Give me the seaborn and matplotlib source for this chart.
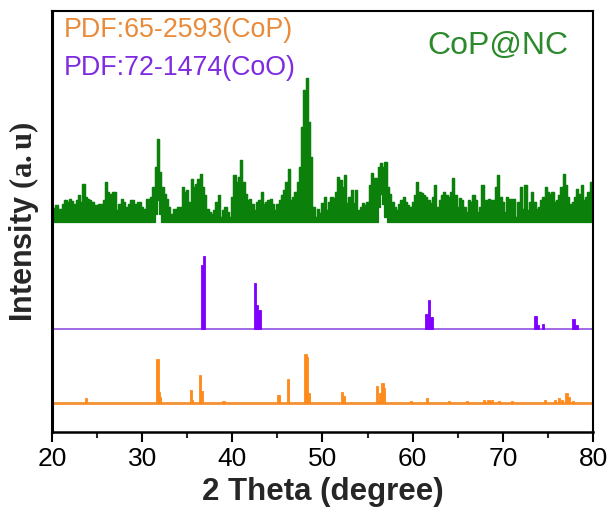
import numpy as np
import matplotlib
matplotlib.use("Agg")
import matplotlib.pyplot as plt
import seaborn as sns

# ---------------- data ----------------
# CoP@NC measured pattern: upper envelope heights (a.u.) on a 0.25 deg grid, 20..80
green_top = [
    12, 14, 17, 13, 13, 18, 22, 20, 23, 21, 18, 22, 27, 20, 38, 25,
    23, 22, 20, 17, 17, 18, 18, 22, 40, 30, 28, 30, 30, 12, 18, 23,
    20, 15, 18, 22, 22, 18, 20, 20, 15, 13, 23, 23, 25, 35, 55, 83,
    50, 35, 28, 23, 15, 8, 13, 13, 15, 15, 35, 30, 32, 20, 43, 35,
    38, 43, 48, 35, 27, 13, 10, 8, 12, 20, 27, 5, 12, 15, 10, 5,
    25, 47, 40, 45, 62, 40, 28, 22, 23, 18, 12, 20, 22, 30, 18, 20,
    22, 23, 18, 12, 18, 22, 27, 32, 40, 53, 22, 25, 30, 40, 55, 95,
    132, 144, 100, 65, 15, 5, 13, 9, 19, 25, 12, 20, 25, 24, 30, 45,
    42, 35, 47, 19, 25, 32, 19, 32, 12, 15, 19, 17, 20, 37, 49, 44,
    44, 55, 59, 55, 60, 35, 28, 20, 15, 12, 18, 22, 25, 20, 17, 15,
    20, 27, 40, 30, 29, 27, 25, 22, 19, 25, 37, 15, 22, 27, 30, 27,
    25, 30, 44, 27, 15, 24, 22, 15, 10, 22, 20, 27, 22, 10, 15, 37,
    22, 22, 23, 22, 22, 35, 47, 25, 20, 10, 25, 23, 23, 23, 5, 20,
    35, 13, 37, 12, 20, 30, 20, 13, 15, 22, 25, 35, 30, 28, 30, 20,
    22, 27, 35, 48, 37, 25, 18, 20, 25, 33, 28, 37, 22, 25, 30, 40,
    25,
]
# lower envelope (white notches under the strongest reflections)
green_low_pos = [31.50, 31.75, 32.00, 56.25, 56.50, 56.75, 57.00]
green_low_val = [8, 22, 8, 15, 28, 18, 5]

# PDF 72-1474 (CoO) sticks
coo_pos = [36.70, 36.85, 42.50, 42.75, 43.00, 61.50, 61.80, 62.05, 73.66, 73.90, 74.47, 77.87, 78.17]
coo_int = [64, 73, 46, 24, 19, 15, 29, 12, 13, 4, 5, 10, 4]

# PDF 65-2593 (CoP) sticks
cop_pos = [23.77, 31.68, 31.85, 32.00, 35.40, 35.55, 36.40, 36.60, 39.00, 45.10, 46.20,
           48.10, 48.30, 48.50, 52.15, 52.37, 56.07, 56.36, 56.66, 56.84, 59.80, 61.57,
           64.05, 66.00, 67.93, 68.40, 68.80, 69.60, 71.00, 74.70, 75.80, 76.25, 76.55,
           77.06, 77.35, 77.80]
cop_int = [5, 44, 11, 6, 13, 3, 28, 12, 2, 8, 24,
           49, 46, 10, 11, 7, 17, 10, 20, 15, 2, 5,
           2.5, 2.5, 3.5, 3, 3, 2.5, 2, 3, 3, 5, 3,
           10, 6, 2]

x_ticks = [20, 30, 40, 50, 60, 70, 80]
labels = {"cop": "PDF:65-2593(CoP)", "coo": "PDF:72-1474(CoO)", "sample": "CoP@NC"}

# ---------------- style ----------------
sns.set_theme(style="white")
plt.rcParams["font.family"] = ["Liberation Sans", "DejaVu Sans"]
plt.rcParams["mathtext.fontset"] = "custom"
plt.rcParams["mathtext.bf"] = "Liberation Serif:bold"
plt.rcParams["mathtext.rm"] = "Liberation Serif"

GREEN = "#0b800b"
PURPLE = "#8000ff"
ORANGE = "#ff8a1c"

fig = plt.figure(figsize=(6.11, 5.18), dpi=100)
ax = fig.add_axes([52 / 611, (518 - 432) / 518, 541 / 611, 421 / 518])

green_base, coo_base, cop_base = 210, 103, 29

x = np.linspace(20, 80, len(green_top))
top = np.array(green_top, dtype=float)
low = np.zeros_like(top)
for p, v in zip(green_low_pos, green_low_val):
    low[np.argmin(np.abs(x - p))] = v

ax.fill_between(x, green_base + low, green_base + top, step="mid",
                color=GREEN, lw=0.9, edgecolor=GREEN)
sns.lineplot(x=x, y=green_base + top, drawstyle="steps-mid", color=GREEN,
             lw=0.9, ax=ax, legend=False)

# reference sticks
ax.axhline(coo_base, color="#9050e0", lw=1.2, zorder=2)
ax.bar(coo_pos, coo_int, width=0.3, bottom=coo_base, color=PURPLE,
       edgecolor=PURPLE, lw=0.6, zorder=3)
ax.axhline(cop_base, color="#f59030", lw=2.0, zorder=2)
ax.bar(cop_pos, cop_int, width=0.28, bottom=cop_base, color=ORANGE,
       edgecolor=ORANGE, lw=0.6, zorder=3)

# texts
ax.text(0.022, 0.955, labels["cop"], transform=ax.transAxes, color="#e98a3a",
        fontsize=19.3, va="center", ha="left")
ax.text(0.022, 0.865, labels["coo"], transform=ax.transAxes, color="#7f2be0",
        fontsize=19.3, va="center", ha="left")
ax.text(0.693, 0.917, labels["sample"], transform=ax.transAxes, color="#2c8a2c",
        fontsize=23, va="center", ha="left")

ax.set_xlim(20, 80)
ax.set_ylim(0, 421)
ax.set_xticks(x_ticks)
ax.set_xticks(np.arange(25, 80, 10), minor=True)
ax.set_yticks([])
ax.tick_params(axis="x", which="major", direction="out", length=7, width=1.5,
               labelsize=19, pad=4, bottom=True, colors="black")
ax.tick_params(axis="x", which="minor", direction="out", length=4.5, width=1.5,
               bottom=True)
for side, s in ax.spines.items():
    s.set_color("black")
    s.set_linewidth(1.5)
ax.spines["left"].set_linewidth(2.2)
ax.spines["bottom"].set_linewidth(1.8)

ax.set_xlabel("2 Theta (degree)", fontsize=22.5, fontweight="bold", labelpad=4)
ax.set_ylabel(r"Intensity $\mathbf{(a.u)}$", fontsize=22, fontweight="bold", labelpad=8)
ax.grid(False)

fig.savefig("out.png", dpi=100)
